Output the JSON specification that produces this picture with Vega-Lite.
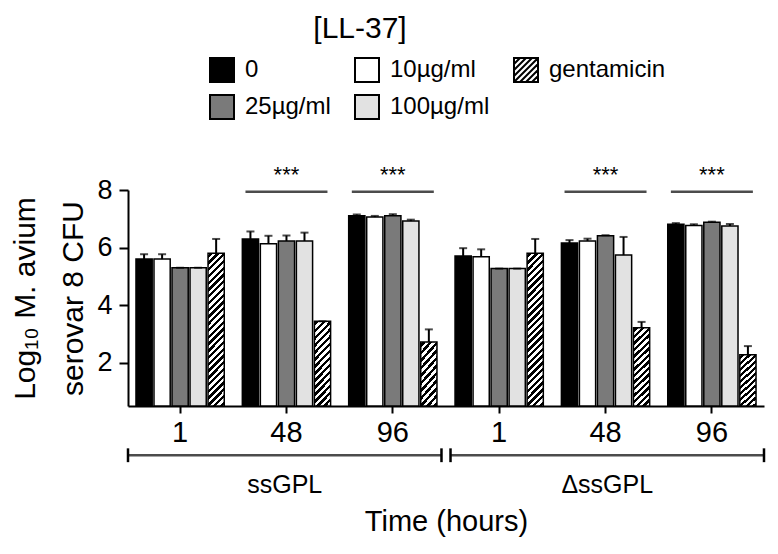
{
"$schema": "https://vega.github.io/schema/vega-lite/v6.json",
"width": 636, "height": 216,
"autosize": "none",
"padding": {"left": 128, "top": 190, "right": 14, "bottom": 148},
"title": {"text": "[LL-37]", "fontSize": 30, "fontWeight": "normal", "font": "Liberation Sans", "color": "#000", "anchor": "middle", "frame": "group", "dx": -86, "offset": 13},
"config": {
  "view": {"stroke": null},
  "font": "Liberation Sans",
  "axis": {"labelFont": "Liberation Sans", "titleFont": "Liberation Sans", "labelColor": "#000", "titleColor": "#000", "domainColor": "#000", "tickColor": "#000", "grid": false},
  "legend": {"labelFont": "Liberation Sans", "labelColor": "#000"}
},
"datasets": {
  "bars": [
    {"cond": "ssGPL|1", "treat": "0", "cfu": 5.60, "hi": 5.77},
    {"cond": "ssGPL|1", "treat": "10µg/ml", "cfu": 5.60, "hi": 5.77},
    {"cond": "ssGPL|1", "treat": "25µg/ml", "cfu": 5.30, "hi": 5.30},
    {"cond": "ssGPL|1", "treat": "100µg/ml", "cfu": 5.30, "hi": 5.30},
    {"cond": "ssGPL|1", "treat": "gentamicin", "cfu": 5.80, "hi": 6.30},
    {"cond": "ssGPL|48", "treat": "0", "cfu": 6.30, "hi": 6.56},
    {"cond": "ssGPL|48", "treat": "10µg/ml", "cfu": 6.13, "hi": 6.41},
    {"cond": "ssGPL|48", "treat": "25µg/ml", "cfu": 6.23, "hi": 6.42},
    {"cond": "ssGPL|48", "treat": "100µg/ml", "cfu": 6.23, "hi": 6.52},
    {"cond": "ssGPL|48", "treat": "gentamicin", "cfu": 3.44, "hi": 3.44},
    {"cond": "ssGPL|96", "treat": "0", "cfu": 7.11, "hi": 7.15},
    {"cond": "ssGPL|96", "treat": "10µg/ml", "cfu": 7.06, "hi": 7.10},
    {"cond": "ssGPL|96", "treat": "25µg/ml", "cfu": 7.11, "hi": 7.16},
    {"cond": "ssGPL|96", "treat": "100µg/ml", "cfu": 6.92, "hi": 6.97},
    {"cond": "ssGPL|96", "treat": "gentamicin", "cfu": 2.72, "hi": 3.16},
    {"cond": "ΔssGPL|1", "treat": "0", "cfu": 5.71, "hi": 5.98},
    {"cond": "ΔssGPL|1", "treat": "10µg/ml", "cfu": 5.68, "hi": 5.94},
    {"cond": "ΔssGPL|1", "treat": "25µg/ml", "cfu": 5.27, "hi": 5.27},
    {"cond": "ΔssGPL|1", "treat": "100µg/ml", "cfu": 5.27, "hi": 5.27},
    {"cond": "ΔssGPL|1", "treat": "gentamicin", "cfu": 5.80, "hi": 6.30},
    {"cond": "ΔssGPL|48", "treat": "0", "cfu": 6.16, "hi": 6.26},
    {"cond": "ΔssGPL|48", "treat": "10µg/ml", "cfu": 6.23, "hi": 6.31},
    {"cond": "ΔssGPL|48", "treat": "25µg/ml", "cfu": 6.41, "hi": 6.43},
    {"cond": "ΔssGPL|48", "treat": "100µg/ml", "cfu": 5.74, "hi": 6.37},
    {"cond": "ΔssGPL|48", "treat": "gentamicin", "cfu": 3.22, "hi": 3.42},
    {"cond": "ΔssGPL|96", "treat": "0", "cfu": 6.81, "hi": 6.85},
    {"cond": "ΔssGPL|96", "treat": "10µg/ml", "cfu": 6.77, "hi": 6.81},
    {"cond": "ΔssGPL|96", "treat": "25µg/ml", "cfu": 6.88, "hi": 6.90},
    {"cond": "ΔssGPL|96", "treat": "100µg/ml", "cfu": 6.75, "hi": 6.82},
    {"cond": "ΔssGPL|96", "treat": "gentamicin", "cfu": 2.28, "hi": 2.58}
  ],
  "sig": [
    {"cond": "ssGPL|48", "label": "***"},
    {"cond": "ssGPL|96", "label": "***"},
    {"cond": "ΔssGPL|48", "label": "***"},
    {"cond": "ΔssGPL|96", "label": "***"}
  ],
  "strains": [
    {"strain": "ssGPL"},
    {"strain": "ΔssGPL"}
  ]
},
"layer": [
  {
    "layer": [
      {
        "data": {"name": "bars"},
        "mark": {"type": "bar", "stroke": "#000", "strokeWidth": 1.5},
        "encoding": {
          "x": {"field": "cond", "type": "nominal",
                "scale": {"domain": ["ssGPL|1", "ssGPL|48", "ssGPL|96", "ΔssGPL|1", "ΔssGPL|48", "ΔssGPL|96"], "paddingInner": 0.17, "paddingOuter": 0.075},
                "axis": {"orient": "bottom", "title": null, "labelExpr": "split(datum.label, '|')[1]", "labelAngle": 0, "labelFontSize": 29, "labelPadding": 5, "tickSize": 7, "tickWidth": 2, "domainWidth": 2}},
          "xOffset": {"field": "treat", "type": "nominal", "scale": {"domain": ["0", "10µg/ml", "25µg/ml", "100µg/ml", "gentamicin"], "paddingInner": 0.1, "paddingOuter": 0}},
          "y": {"field": "cfu", "type": "quantitative",
                "scale": {"domain": [0.5, 8], "nice": false, "zero": false},
                "axis": {"values": [2, 4, 6, 8], "title": ["Log₁₀ M. avium", "serovar 8 CFU"], "titleFontSize": 30, "titleFontWeight": "normal", "titleLineHeight": 48, "titlePadding": 8, "labelFontSize": 27, "labelPadding": 7, "tickSize": 9, "tickWidth": 2, "domainWidth": 2}},
          "y2": {"datum": 0.5},
          "fill": {
            "condition": [
              {"test": "datum.treat === 'gentamicin' && datum.cfu > 5", "value": {"gradient": "linear", "x1": 0, "y1": 0, "x2": 0.117, "y2": 1.094, "stops": [
                {"offset":0.01,"color":"#fff"},{"offset":0.01,"color":"#000"},{"offset":0.03,"color":"#000"},{"offset":0.03,"color":"#fff"},
                {"offset":0.05,"color":"#fff"},{"offset":0.05,"color":"#000"},{"offset":0.07,"color":"#000"},{"offset":0.07,"color":"#fff"},
                {"offset":0.09,"color":"#fff"},{"offset":0.09,"color":"#000"},{"offset":0.11,"color":"#000"},{"offset":0.11,"color":"#fff"},
                {"offset":0.13,"color":"#fff"},{"offset":0.13,"color":"#000"},{"offset":0.15,"color":"#000"},{"offset":0.15,"color":"#fff"},
                {"offset":0.17,"color":"#fff"},{"offset":0.17,"color":"#000"},{"offset":0.19,"color":"#000"},{"offset":0.19,"color":"#fff"},
                {"offset":0.21,"color":"#fff"},{"offset":0.21,"color":"#000"},{"offset":0.23,"color":"#000"},{"offset":0.23,"color":"#fff"},
                {"offset":0.25,"color":"#fff"},{"offset":0.25,"color":"#000"},{"offset":0.27,"color":"#000"},{"offset":0.27,"color":"#fff"},
                {"offset":0.29,"color":"#fff"},{"offset":0.29,"color":"#000"},{"offset":0.31,"color":"#000"},{"offset":0.31,"color":"#fff"},
                {"offset":0.33,"color":"#fff"},{"offset":0.33,"color":"#000"},{"offset":0.35,"color":"#000"},{"offset":0.35,"color":"#fff"},
                {"offset":0.37,"color":"#fff"},{"offset":0.37,"color":"#000"},{"offset":0.39,"color":"#000"},{"offset":0.39,"color":"#fff"},
                {"offset":0.41,"color":"#fff"},{"offset":0.41,"color":"#000"},{"offset":0.43,"color":"#000"},{"offset":0.43,"color":"#fff"},
                {"offset":0.45,"color":"#fff"},{"offset":0.45,"color":"#000"},{"offset":0.47,"color":"#000"},{"offset":0.47,"color":"#fff"},
                {"offset":0.49,"color":"#fff"},{"offset":0.49,"color":"#000"},{"offset":0.51,"color":"#000"},{"offset":0.51,"color":"#fff"},
                {"offset":0.53,"color":"#fff"},{"offset":0.53,"color":"#000"},{"offset":0.55,"color":"#000"},{"offset":0.55,"color":"#fff"},
                {"offset":0.57,"color":"#fff"},{"offset":0.57,"color":"#000"},{"offset":0.59,"color":"#000"},{"offset":0.59,"color":"#fff"},
                {"offset":0.61,"color":"#fff"},{"offset":0.61,"color":"#000"},{"offset":0.63,"color":"#000"},{"offset":0.63,"color":"#fff"},
                {"offset":0.65,"color":"#fff"},{"offset":0.65,"color":"#000"},{"offset":0.67,"color":"#000"},{"offset":0.67,"color":"#fff"},
                {"offset":0.69,"color":"#fff"},{"offset":0.69,"color":"#000"},{"offset":0.71,"color":"#000"},{"offset":0.71,"color":"#fff"},
                {"offset":0.73,"color":"#fff"},{"offset":0.73,"color":"#000"},{"offset":0.75,"color":"#000"},{"offset":0.75,"color":"#fff"},
                {"offset":0.77,"color":"#fff"},{"offset":0.77,"color":"#000"},{"offset":0.79,"color":"#000"},{"offset":0.79,"color":"#fff"},
                {"offset":0.81,"color":"#fff"},{"offset":0.81,"color":"#000"},{"offset":0.83,"color":"#000"},{"offset":0.83,"color":"#fff"},
                {"offset":0.85,"color":"#fff"},{"offset":0.85,"color":"#000"},{"offset":0.87,"color":"#000"},{"offset":0.87,"color":"#fff"},
                {"offset":0.89,"color":"#fff"},{"offset":0.89,"color":"#000"},{"offset":0.91,"color":"#000"},{"offset":0.91,"color":"#fff"},
                {"offset":0.93,"color":"#fff"},{"offset":0.93,"color":"#000"},{"offset":0.95,"color":"#000"},{"offset":0.95,"color":"#fff"},
                {"offset":0.97,"color":"#fff"},{"offset":0.97,"color":"#000"},{"offset":0.99,"color":"#000"},{"offset":0.99,"color":"#fff"}
              ]}},
              {"test": "datum.treat === 'gentamicin' && datum.cfu > 3", "value": {"gradient": "linear", "x1": 0, "y1": 0, "x2": 0.4, "y2": 2.0, "stops": [
                {"offset":0.01,"color":"#fff"},{"offset":0.01,"color":"#000"},{"offset":0.03,"color":"#000"},{"offset":0.03,"color":"#fff"},
                {"offset":0.05,"color":"#fff"},{"offset":0.05,"color":"#000"},{"offset":0.07,"color":"#000"},{"offset":0.07,"color":"#fff"},
                {"offset":0.09,"color":"#fff"},{"offset":0.09,"color":"#000"},{"offset":0.11,"color":"#000"},{"offset":0.11,"color":"#fff"},
                {"offset":0.13,"color":"#fff"},{"offset":0.13,"color":"#000"},{"offset":0.15,"color":"#000"},{"offset":0.15,"color":"#fff"},
                {"offset":0.17,"color":"#fff"},{"offset":0.17,"color":"#000"},{"offset":0.19,"color":"#000"},{"offset":0.19,"color":"#fff"},
                {"offset":0.21,"color":"#fff"},{"offset":0.21,"color":"#000"},{"offset":0.23,"color":"#000"},{"offset":0.23,"color":"#fff"},
                {"offset":0.25,"color":"#fff"},{"offset":0.25,"color":"#000"},{"offset":0.27,"color":"#000"},{"offset":0.27,"color":"#fff"},
                {"offset":0.29,"color":"#fff"},{"offset":0.29,"color":"#000"},{"offset":0.31,"color":"#000"},{"offset":0.31,"color":"#fff"},
                {"offset":0.33,"color":"#fff"},{"offset":0.33,"color":"#000"},{"offset":0.35,"color":"#000"},{"offset":0.35,"color":"#fff"},
                {"offset":0.37,"color":"#fff"},{"offset":0.37,"color":"#000"},{"offset":0.39,"color":"#000"},{"offset":0.39,"color":"#fff"},
                {"offset":0.41,"color":"#fff"},{"offset":0.41,"color":"#000"},{"offset":0.43,"color":"#000"},{"offset":0.43,"color":"#fff"},
                {"offset":0.45,"color":"#fff"},{"offset":0.45,"color":"#000"},{"offset":0.47,"color":"#000"},{"offset":0.47,"color":"#fff"},
                {"offset":0.49,"color":"#fff"},{"offset":0.49,"color":"#000"},{"offset":0.51,"color":"#000"},{"offset":0.51,"color":"#fff"},
                {"offset":0.53,"color":"#fff"},{"offset":0.53,"color":"#000"},{"offset":0.55,"color":"#000"},{"offset":0.55,"color":"#fff"},
                {"offset":0.57,"color":"#fff"},{"offset":0.57,"color":"#000"},{"offset":0.59,"color":"#000"},{"offset":0.59,"color":"#fff"}
              ]}},
              {"test": "datum.treat === 'gentamicin'", "value": {"gradient": "linear", "x1": 0, "y1": 0, "x2": 0.774, "y2": 2.729, "stops": [
                {"offset":0.01,"color":"#fff"},{"offset":0.01,"color":"#000"},{"offset":0.03,"color":"#000"},{"offset":0.03,"color":"#fff"},
                {"offset":0.05,"color":"#fff"},{"offset":0.05,"color":"#000"},{"offset":0.07,"color":"#000"},{"offset":0.07,"color":"#fff"},
                {"offset":0.09,"color":"#fff"},{"offset":0.09,"color":"#000"},{"offset":0.11,"color":"#000"},{"offset":0.11,"color":"#fff"},
                {"offset":0.13,"color":"#fff"},{"offset":0.13,"color":"#000"},{"offset":0.15,"color":"#000"},{"offset":0.15,"color":"#fff"},
                {"offset":0.17,"color":"#fff"},{"offset":0.17,"color":"#000"},{"offset":0.19,"color":"#000"},{"offset":0.19,"color":"#fff"},
                {"offset":0.21,"color":"#fff"},{"offset":0.21,"color":"#000"},{"offset":0.23,"color":"#000"},{"offset":0.23,"color":"#fff"},
                {"offset":0.25,"color":"#fff"},{"offset":0.25,"color":"#000"},{"offset":0.27,"color":"#000"},{"offset":0.27,"color":"#fff"},
                {"offset":0.29,"color":"#fff"},{"offset":0.29,"color":"#000"},{"offset":0.31,"color":"#000"},{"offset":0.31,"color":"#fff"},
                {"offset":0.33,"color":"#fff"},{"offset":0.33,"color":"#000"},{"offset":0.35,"color":"#000"},{"offset":0.35,"color":"#fff"},
                {"offset":0.37,"color":"#fff"},{"offset":0.37,"color":"#000"},{"offset":0.39,"color":"#000"},{"offset":0.39,"color":"#fff"},
                {"offset":0.41,"color":"#fff"},{"offset":0.41,"color":"#000"},{"offset":0.43,"color":"#000"},{"offset":0.43,"color":"#fff"},
                {"offset":0.45,"color":"#fff"},{"offset":0.45,"color":"#000"},{"offset":0.47,"color":"#000"},{"offset":0.47,"color":"#fff"}
              ]}}
            ],
            "field": "treat", "type": "nominal",
            "scale": {"domain": ["0", "10µg/ml", "gentamicin", "25µg/ml", "100µg/ml"], "range": ["#000000", "#ffffff", "#ffffff", "#7a7a7a", "#e2e2e2"]},
            "legend": {
              "orient": "none", "legendX": 81, "legendY": -133, "direction": "horizontal", "columns": 3, "title": null,
              "symbolType": "square", "symbolSize": 576, "symbolStrokeColor": "#000", "symbolStrokeWidth": 2, "symbolOpacity": 1,
              "labelFontSize": 24, "labelOffset": 10, "rowPadding": 5, "columnPadding": 20, "gridAlign": "each", "labelLimit": 400, "padding": 0
            }
          }
        }
      },
      {
        "data": {"name": "bars"},
        "transform": [{"filter": "false"}],
        "mark": {"type": "point", "filled": false, "opacity": 0},
        "encoding": {
          "shape": {"field": "treat", "type": "nominal",
            "scale": {"domain": ["0", "10µg/ml", "gentamicin", "25µg/ml", "100µg/ml"],
                      "range": ["square", "square", "M-1,-1H1V1H-1Z M-1,-0.5L-0.5,-1 M-1,0L0,-1 M-1,0.5L0.5,-1 M-1,1L1,-1 M-0.5,1L1,-0.5 M0,1L1,0 M0.5,1L1,0.5", "square", "square"]},
            "legend": {
              "orient": "none", "legendX": 81, "legendY": -133, "direction": "horizontal", "columns": 3, "title": null,
              "symbolSize": 576, "symbolStrokeColor": "#000", "symbolStrokeWidth": 2, "symbolOpacity": 1,
              "labelFontSize": 24, "labelOffset": 10, "rowPadding": 5, "columnPadding": 20, "gridAlign": "each", "labelLimit": 400, "padding": 0
            }
          }
        }
      },
      {
        "data": {"name": "bars"},
        "mark": {"type": "rule", "color": "#000", "strokeWidth": 2},
        "encoding": {
          "x": {"field": "cond", "type": "nominal"},
          "xOffset": {"field": "treat", "type": "nominal"},
          "y": {"field": "cfu", "type": "quantitative"},
          "y2": {"field": "hi"}
        }
      },
      {
        "data": {"name": "bars"},
        "mark": {"type": "tick", "orient": "horizontal", "color": "#000", "size": 8, "thickness": 2},
        "encoding": {
          "x": {"field": "cond", "type": "nominal"},
          "xOffset": {"field": "treat", "type": "nominal"},
          "y": {"field": "hi", "type": "quantitative"}
        }
      },
      {
        "data": {"name": "sig"},
        "mark": {"type": "tick", "orient": "horizontal", "color": "#000", "size": 82, "thickness": 2.5},
        "encoding": {
          "x": {"field": "cond", "type": "nominal"},
          "y": {"datum": 7.94, "type": "quantitative"}
        }
      },
      {
        "data": {"name": "sig"},
        "mark": {"type": "text", "color": "#000", "fontSize": 22, "baseline": "alphabetic", "align": "center"},
        "encoding": {
          "x": {"field": "cond", "type": "nominal"},
          "y": {"datum": 8.29, "type": "quantitative"},
          "text": {"field": "label"}
        }
      }
    ]
  },
  {
    "data": {"name": "strains"},
    "layer": [
      {
        "mark": {"type": "tick", "orient": "horizontal", "color": "#000", "size": 313, "thickness": 2.5},
        "encoding": {
          "x": {"field": "strain", "type": "nominal",
                "scale": {"domain": ["ssGPL", "ΔssGPL"], "paddingInner": 0.028, "paddingOuter": 0},
                "axis": {"orient": "bottom", "domain": false, "ticks": false, "labelAngle": 0, "labelFontSize": 25, "labelPadding": 66, "title": "Time (hours)", "titleFontSize": 29, "titleFontWeight": "normal", "titlePadding": 10}},
          "y": {"datum": -1.21, "type": "quantitative"}
        }
      },
      {
        "mark": {"type": "rule", "color": "#000", "strokeWidth": 2.5},
        "encoding": {
          "x": {"field": "strain", "type": "nominal", "bandPosition": 0},
          "y": {"datum": -0.97, "type": "quantitative"},
          "y2": {"datum": -1.45}
        }
      },
      {
        "mark": {"type": "rule", "color": "#000", "strokeWidth": 2.5},
        "encoding": {
          "x": {"field": "strain", "type": "nominal", "bandPosition": 1},
          "y": {"datum": -0.97, "type": "quantitative"},
          "y2": {"datum": -1.45}
        }
      }
    ]
  }
],
"resolve": {"scale": {"x": "independent"}, "axis": {"x": "independent"}}
}
